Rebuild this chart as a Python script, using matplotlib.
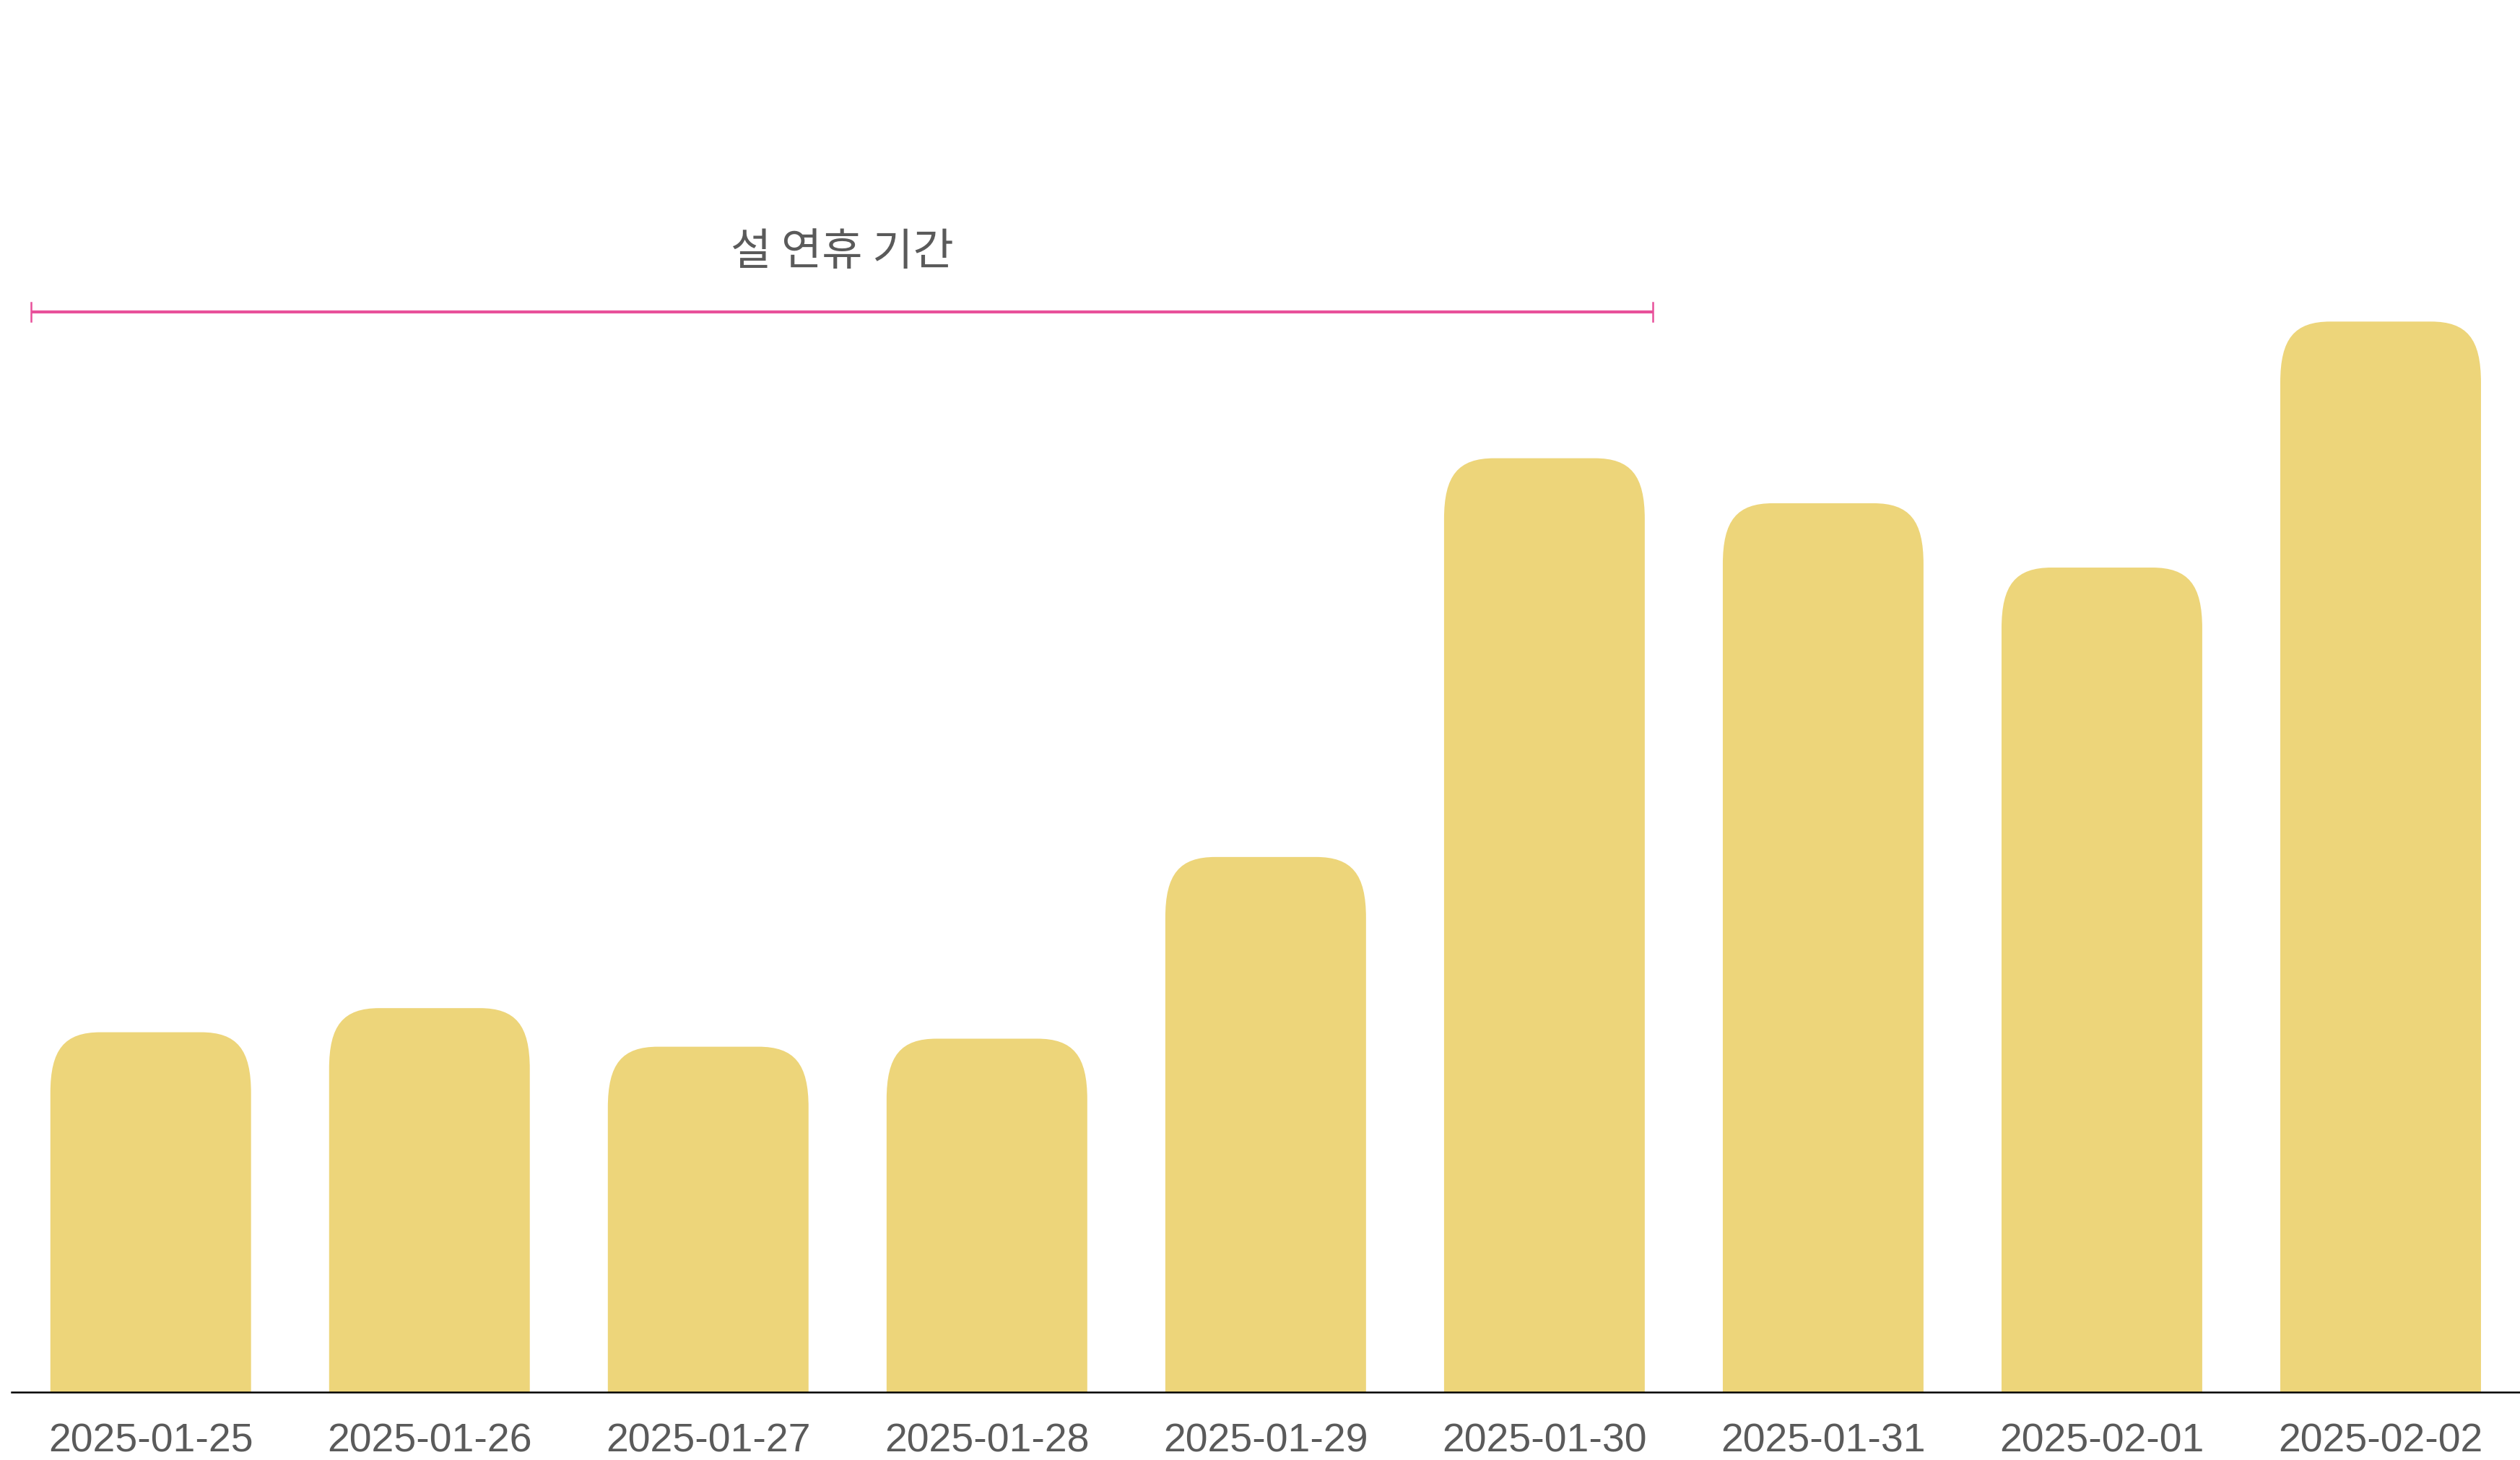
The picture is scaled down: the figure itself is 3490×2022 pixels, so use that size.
#!/usr/bin/env python3
# -*- coding: utf-8 -*-

"""Bar chart with a holiday-period bracket."""

import matplotlib
matplotlib.use("Agg")
import matplotlib.pyplot as plt
from matplotlib.path import Path
from matplotlib.patches import PathPatch


# Data.
dates = ["2025-01-25", "2025-01-26", "2025-01-27", "2025-01-28", "2025-01-29",
         "2025-01-30", "2025-01-31", "2025-02-01", "2025-02-02"]
values = [224, 239, 215, 220, 333, 581, 553, 513, 666]
holiday_label = "설 연휴 기간"
holiday_start = 0   # index of first holiday bar
holiday_end = 5     # index of last holiday bar

bar_color = "#EDD57A"
bracket_color = "#E8509A"
text_color = "#5A5A5A"

plt.rcParams['font.family'] = ['Liberation Sans', 'Noto Sans CJK KR', 'DejaVu Sans']

fig = plt.figure(figsize=(34.9, 20.22), dpi=100)
ax = fig.add_axes([0.0045, 0.0463, 0.9955, 0.9537])

width = 0.72
rx, ry = 0.18, 38
k = 0.72  # control-point factor, a bit squarer than a circle


def rounded_top(x0, x1, h):
    verts = [(x0, 0), (x0, h - ry),
             (x0, h - ry * (1 - k)), (x0 + rx * (1 - k), h), (x0 + rx, h),
             (x1 - rx, h),
             (x1 - rx * (1 - k), h), (x1, h - ry * (1 - k)), (x1, h - ry),
             (x1, 0), (x0, 0)]
    codes = [Path.MOVETO, Path.LINETO,
             Path.CURVE4, Path.CURVE4, Path.CURVE4,
             Path.LINETO,
             Path.CURVE4, Path.CURVE4, Path.CURVE4,
             Path.LINETO, Path.CLOSEPOLY]
    return Path(verts, codes)


for i, v in enumerate(values):
    ax.add_patch(PathPatch(rounded_top(i - width / 2, i + width / 2, v),
                           facecolor=bar_color, edgecolor="none"))

# Holiday bracket.
bx0 = holiday_start - 0.43
bx1 = holiday_end + 0.39
by = 672
ax.plot([bx0, bx1], [by, by], color=bracket_color, lw=3, solid_capstyle="butt")
for bx in (bx0, bx1):
    ax.plot([bx, bx], [by - 6, by + 6], color=bracket_color, lw=1.8)
ax.text((bx0 + bx1) / 2, 709, holiday_label, ha="center", va="center",
        fontsize=44, color=text_color, family=['Noto Sans CJK KR', 'DejaVu Sans'])

ax.set_xlim(-0.5, len(values) - 0.5)
ax.set_ylim(0, 866)
ax.set_xticks(range(len(dates)))
ax.set_xticklabels(dates, fontsize=40, color=text_color)
ax.set_yticks([])
ax.tick_params(axis="x", length=0, pad=30)
for s in ("top", "right", "left"):
    ax.spines[s].set_visible(False)
ax.spines["bottom"].set_linewidth(1.8)
ax.spines["bottom"].set_color("black")

fig.savefig("out.png", dpi=100, facecolor="white")
